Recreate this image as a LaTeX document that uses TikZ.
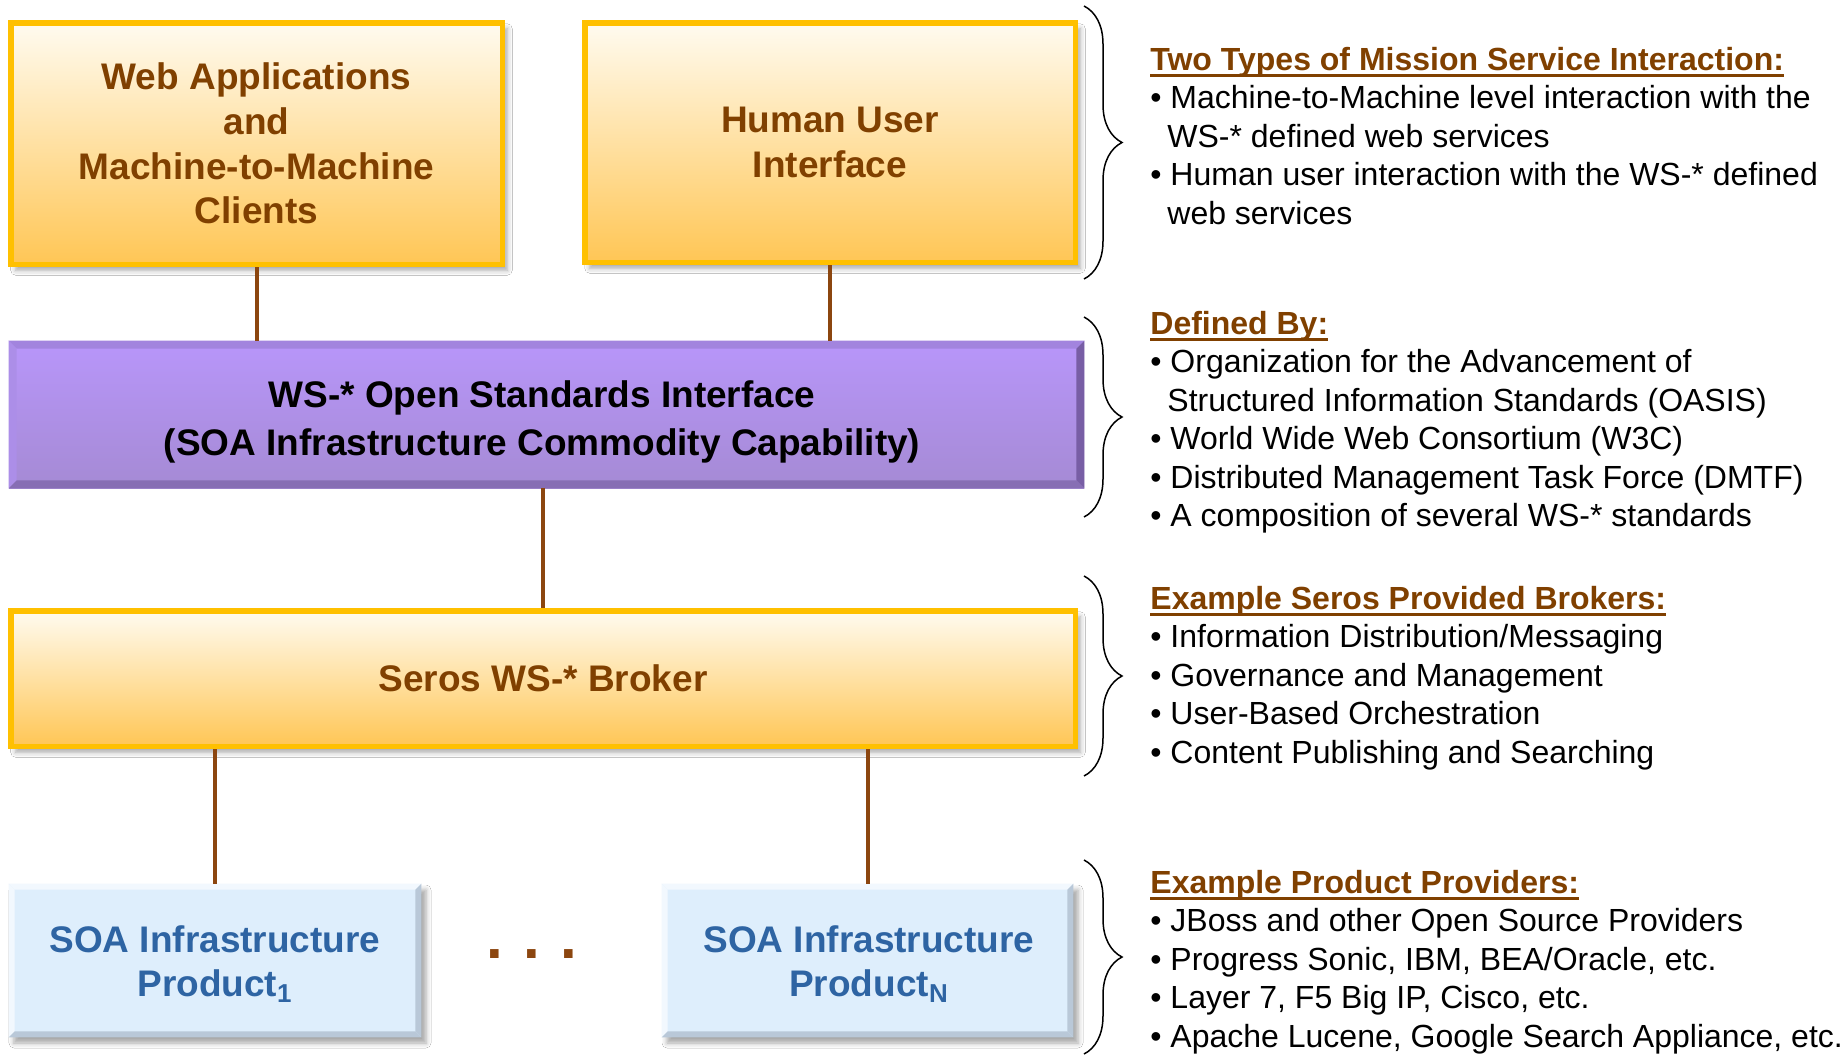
\documentclass[tikz,border=0pt]{standalone}
\usepackage{fontspec}
\setmainfont{Liberation Sans}
\usetikzlibrary{decorations.pathreplacing,shadows.blur,calc}

\definecolor{brT}{RGB}{128,64,0}
\definecolor{conn}{RGB}{140,70,15}
\definecolor{ybord}{RGB}{255,192,0}
\definecolor{ytop}{RGB}{255,251,240}
\definecolor{ymid}{RGB}{255,230,172}
\definecolor{ybot}{RGB}{255,198,85}
\definecolor{ptop}{RGB}{184,150,250}
\definecolor{pbot}{RGB}{165,138,212}
\definecolor{pbevT}{RGB}{162,132,222}
\definecolor{pbevB}{RGB}{135,110,180}
\definecolor{pbevR}{RGB}{120,94,165}
\definecolor{pbevL}{RGB}{172,142,232}
\definecolor{bfill}{RGB}{222,238,252}
\definecolor{bhi}{RGB}{242,248,254}
\definecolor{blo}{RGB}{185,200,216}
\definecolor{btext}{RGB}{46,100,163}

\newcommand\hul[1]{\setbox0\hbox{#1}\rlap{\rule[-3.4pt]{\wd0}{1.4pt}}\box0}

\tikzset{
  boxfont/.style={font=\fontsize{18.5}{22.4}\selectfont\bfseries, align=center},
  ybox/.style={boxfont, draw=ybord, line width=2.75pt, top color=ytop, middle color=ymid, bottom color=ybot, text=brT,
     blur shadow={shadow xshift=2.5pt, shadow yshift=-3pt, shadow blur radius=2.5pt, shadow opacity=35}},
  pbox/.style={top color=ptop, bottom color=pbot, inner sep=0pt},
  ptext/.style={font=\fontsize{18.5}{24}\selectfont\bfseries, align=center, text=black, inner sep=0pt},
  prodbox/.style={fill=bfill, inner sep=0pt,
     blur shadow={shadow xshift=2.5pt, shadow yshift=-3pt, shadow blur radius=2.5pt, shadow opacity=35}},
  prodtext/.style={boxfont, text=btext, inner sep=0pt},
  conline/.style={draw=conn, line width=2pt},
  bracel/.style={draw=black, line width=0.75pt, decorate, decoration={brace, amplitude=19pt}},
  head/.style={anchor=base west, inner sep=0pt, font=\fontsize{16}{19}\selectfont\bfseries, text=brT},
  item/.style={anchor=base west, inner sep=0pt, font=\fontsize{16}{19}\selectfont, text=black},
}

\begin{document}
\begin{tikzpicture}[x=0.5pt, y=-0.5pt]
\useasboundingbox[fill=white] (0,0) rectangle (1843,1057);

% top boxes
\node[ybox, minimum width=245.75pt, minimum height=120.75pt] (wa) at (256.5,143.5)
  {Web Applications\\and\\Machine-to-Machine\\Clients};
\node[ybox, minimum width=245.25pt, minimum height=119.75pt] (hu) at (830,142.5)
  {Human User\\Interface};

% purple interface
\node[pbox, minimum width=537.5pt, minimum height=73.5pt] (pu) at (546.5,414.5) {};
\fill[pbevT] (pu.north west) -- (pu.north east) -- ($(pu.north east)+(-4pt,-4pt)$) -- ($(pu.north west)+(4pt,-4pt)$) -- cycle;
\fill[pbevL] (pu.north west) -- ($(pu.north west)+(4pt,-4pt)$) -- ($(pu.south west)+(4pt,4pt)$) -- (pu.south west) -- cycle;
\fill[pbevR] (pu.north east) -- ($(pu.north east)+(-4pt,-4pt)$) -- ($(pu.south east)+(-4pt,4pt)$) -- (pu.south east) -- cycle;
\fill[pbevB] (pu.south west) -- ($(pu.south west)+(4pt,4pt)$) -- ($(pu.south east)+(-4pt,4pt)$) -- (pu.south east) -- cycle;
\node[ptext] (putext) at (542,422) {WS-* Open Standards Interface\\(SOA Infrastructure Commodity Capability)};

% broker
\node[ybox, minimum width=532.25pt, minimum height=67.75pt] (br) at (543,678.5) {Seros WS-* Broker};

% products
\node[prodbox, minimum width=206pt, minimum height=76.5pt] (p1) at (215,960.5) {};
\node[prodbox, minimum width=205.5pt, minimum height=76.5pt] (pn) at (867.5,960.5) {};
\foreach \b in {p1,pn}{
  \fill[bhi] (\b.north west) -- (\b.north east) -- ($(\b.north east)+(-3pt,-3pt)$) -- ($(\b.north west)+(3pt,-3pt)$) -- cycle;
  \fill[bhi] (\b.north west) -- ($(\b.north west)+(3pt,-3pt)$) -- ($(\b.south west)+(3pt,3pt)$) -- (\b.south west) -- cycle;
  \fill[blo] (\b.north east) -- ($(\b.north east)+(-3pt,-3pt)$) -- ($(\b.south east)+(-3pt,3pt)$) -- (\b.south east) -- cycle;
  \fill[blo] (\b.south west) -- ($(\b.south west)+(3pt,3pt)$) -- ($(\b.south east)+(-3pt,3pt)$) -- (\b.south east) -- cycle;
}
\node[prodtext] (p1text) at (215,964) {SOA Infrastructure\\Product\textsubscript{1}};
\node[prodtext] (pntext) at (869,964) {SOA Infrastructure\\Product\textsubscript{N}};
\node[font=\fontsize{30}{30}\selectfont\bfseries, text=conn, inner sep=0pt] (dots) at (532,954) {.\,\,.\,\,.};

% connectors
\draw[conline] (wa.south) -- (wa.south |- pu.north);
\draw[conline] (hu.south) -- (hu.south |- pu.north);
\draw[conline] ($(pu.south)+(-2pt,0)$) -- ($(pu.south |- br.north)+(-2pt,0)$);
\draw[conline] (p1.north) -- (p1.north |- br.south);
\draw[conline] (pn.north) -- (pn.north |- br.south);

% braces
\draw[bracel] (1084,6) -- (1084,279);
\draw[bracel] (1084,317) -- (1084,517);
\draw[bracel] (1084,576) -- (1084,776);
\draw[bracel] (1084,860) -- (1084,1054);

% text block 1
\node[head] (h1) at (1150,70) {\hul{Two Types of Mission Service Interaction:}};
\node[item] (h1a) at (1150,108.5) {• Machine-to-Machine level interaction with the};
\node[item] (h1b) at (1167,147) {WS-* defined web services};
\node[item] (h1c) at (1150,185.5) {• Human user interaction with the WS-* defined};
\node[item] (h1d) at (1167,224) {web services};

% text block 2
\node[head] (h2) at (1150,334) {\hul{Defined By:}};
\node[item] (h2a) at (1150,372.5) {• Organization for the Advancement of};
\node[item] (h2b) at (1167,411) {Structured Information Standards (OASIS)};
\node[item] (h2c) at (1150,449.5) {• World Wide Web Consortium (W3C)};
\node[item] (h2d) at (1150,488) {• Distributed Management Task Force (DMTF)};
\node[item] (h2e) at (1150,526.5) {• A composition of several WS-* standards};

% text block 3
\node[head] (h3) at (1150,609) {\hul{Example Seros Provided Brokers:}};
\node[item] (h3a) at (1150,647.5) {• Information Distribution/Messaging};
\node[item] (h3b) at (1150,686) {• Governance and Management};
\node[item] (h3c) at (1150,724.5) {• User-Based Orchestration};
\node[item] (h3d) at (1150,763) {• Content Publishing and Searching};

% text block 4
\node[head] (h4) at (1150,893) {\hul{Example Product Providers:}};
\node[item] (h4a) at (1150,931.5) {• JBoss and other Open Source Providers};
\node[item] (h4b) at (1150,970) {• Progress Sonic, IBM, BEA/Oracle, etc.};
\node[item] (h4c) at (1150,1008.5) {• Layer 7, F5 Big IP, Cisco, etc.};
\node[item] (h4d) at (1150,1047) {• Apache Lucene, Google Search Appliance, etc.};
\end{tikzpicture}
\end{document}
